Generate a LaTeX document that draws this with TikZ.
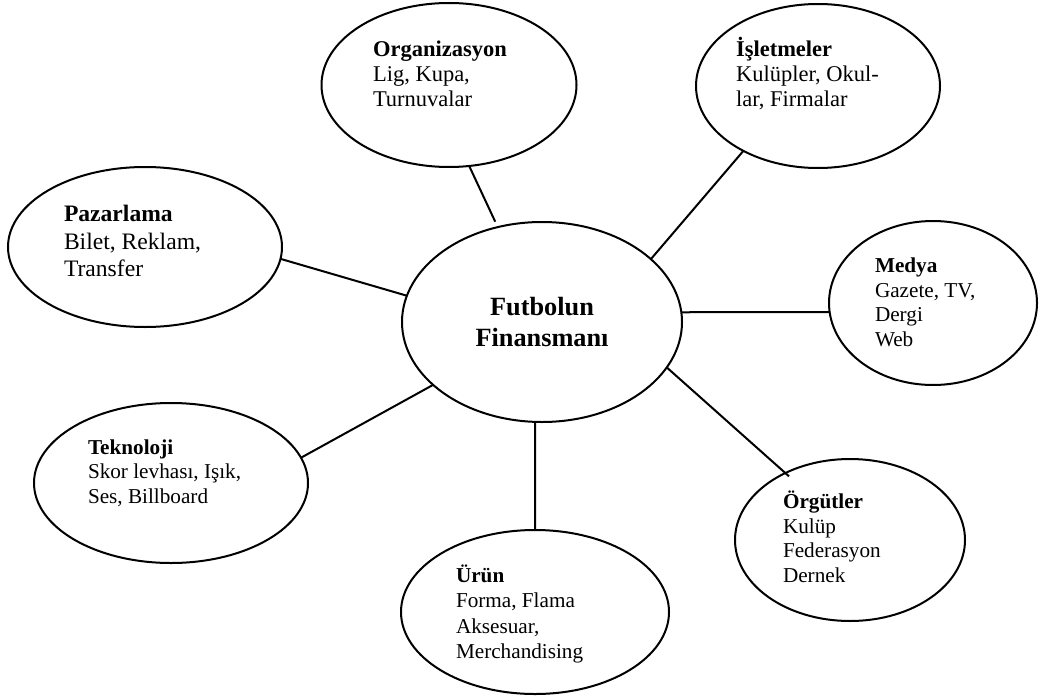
\documentclass[tikz,border=0pt]{standalone}
\usepackage{fontspec}
\setmainfont{Liberation Serif}
\usetikzlibrary{shapes.geometric}
\begin{document}
\begin{tikzpicture}[x=1pt,y=-1pt,
  bubble/.style={draw, ellipse, line width=2pt, inner sep=0pt, outer sep=0pt},
  link/.style={line width=2pt},
  % multi-line labels: the base anchor sits on the last line
  txt/.style={anchor=base west, align=left, inner sep=0pt, outer sep=0pt,
              font=\fontsize{21.2}{24.4}\selectfont},
  toptxt/.style={txt, font=\fontsize{22.5}{24.8}\selectfont},
  bigtxt/.style={txt, font=\fontsize{23.6}{27.5}\selectfont},
  hubtxt/.style={anchor=base, align=center, inner sep=0pt, outer sep=0pt,
                 font=\fontsize{26.3}{31}\selectfont\bfseries}]
\useasboundingbox (0,0) rectangle (1040,698);

% bubbles
\node[bubble, minimum width=280pt, minimum height=200pt] (hub)  at (542,322) {};
\node[bubble, minimum width=255pt, minimum height=164pt] (org)  at (449,85)  {};
\node[bubble, minimum width=244pt, minimum height=164pt] (isl)  at (818,86)  {};
\node[bubble, minimum width=274pt, minimum height=160pt] (paz)  at (145,247) {};
\node[bubble, minimum width=208pt, minimum height=164pt] (med)  at (933,303) {};
\node[bubble, minimum width=274pt, minimum height=160pt] (tek)  at (171,483) {};
\node[bubble, minimum width=268pt, minimum height=164pt] (urun) at (535,612) {};
\node[bubble, minimum width=230pt, minimum height=162pt] (orgt) at (850,540) {};

% texts
\node[hubtxt] (hubT)  at (542,346)   {Futbolun\\Finansmanı};
\node[toptxt] (orgT)  at (373,106.6) {\textbf{Organizasyon}\\Lig, Kupa,\\Turnuvalar};
\node[toptxt] (islT)  at (736,106.6) {\textbf{İşletmeler}\\Kulüpler, Okul-\\lar, Firmalar};
\node[bigtxt] (pazT)  at (64,276.7)  {\textbf{Pazarlama}\\Bilet, Reklam,\\Transfer};
\node[txt]    (medT)  at (875,346)   {\textbf{Medya}\\Gazete, TV,\\Dergi\\Web};
\node[txt]    (tekT)  at (88,503)    {\textbf{Teknoloji}\\Skor levhası, Işık,\\Ses, Billboard};
\node[txt, font=\fontsize{21.2}{25.5}\selectfont]
              (urunT) at (456,658.5) {\textbf{Ürün}\\Forma, Flama\\Aksesuar,\\Merchandising};
\node[txt]    (orgtT) at (783,582)   {\textbf{Örgütler}\\Kulüp\\Federasyon\\Dernek};

% spokes
\draw[link, shorten >=6pt] (org.-76) -- (hub.115);
\draw[link] (isl.-139) -- (hub.30);
\draw[link] (paz.-5) -- (hub.169);
\draw[link] (hub.4) -- (med.185);
\draw[link] (tek.11) -- (hub.210);
\draw[link] (hub.-94) -- (urun.90);
\draw[link, shorten >=-5pt] (hub.-20) -- (orgt.134);
\end{tikzpicture}
\end{document}
